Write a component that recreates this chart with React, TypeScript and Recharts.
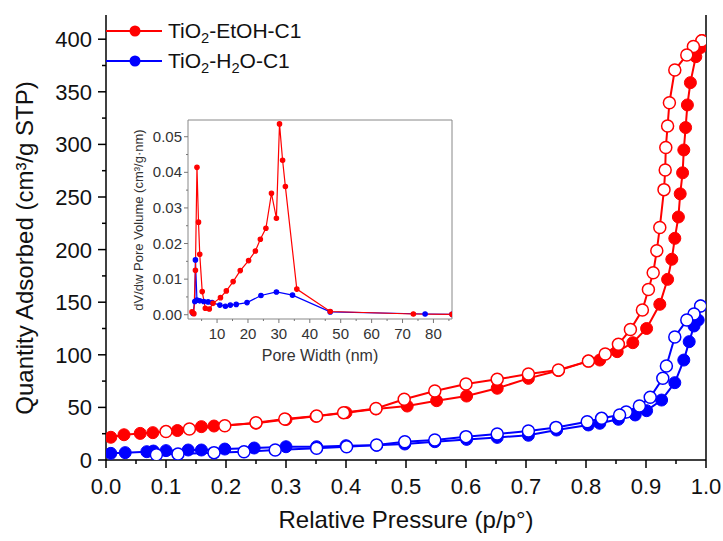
import React from "react";
import { LineChart, Line, XAxis, YAxis, ReferenceLine, Label } from "recharts";

// ---------- main isotherm data ----------
const redAdsP = [0.008, 0.03, 0.057, 0.078, 0.119, 0.159, 0.18, 0.25, 0.3, 0.35, 0.4, 0.45, 0.502, 0.551, 0.601, 0.652, 0.704, 0.754, 0.804, 0.823, 0.852, 0.878, 0.901, 0.923, 0.936, 0.943, 0.948, 0.954, 0.957, 0.961, 0.963, 0.966, 0.969, 0.974, 0.983, 0.991, 0.993];
const redAdsV = [21.6, 24, 25.3, 26, 28, 31.7, 32.3, 35, 38.5, 41.5, 45, 48.5, 51.3, 56.4, 60.8, 68.2, 77.6, 85, 94, 95, 103, 111.5, 125, 148, 171.7, 190.8, 210.7, 231, 253, 273, 294.7, 316, 337.5, 358.7, 383.4, 392, 398.6];
const redDesP = [0.993, 0.979, 0.968, 0.948, 0.939, 0.936, 0.933, 0.932, 0.93, 0.923, 0.918, 0.912, 0.904, 0.894, 0.874, 0.854, 0.832, 0.804, 0.754, 0.704, 0.652, 0.6, 0.548, 0.497, 0.45, 0.396, 0.351, 0.298, 0.25, 0.198, 0.139, 0.1];
const redDesV = [398.6, 393, 385, 370.7, 339.6, 317.5, 297, 275.7, 257, 221, 199, 178, 162, 142.6, 124, 110, 100.8, 94, 85.6, 81.7, 76.7, 72.2, 65.6, 57.7, 49, 45, 41.8, 39, 35.5, 32.6, 29.5, 27];
const blueAdsP = [0.008, 0.032, 0.068, 0.079, 0.1, 0.137, 0.159, 0.198, 0.247, 0.3, 0.351, 0.4, 0.451, 0.498, 0.548, 0.601, 0.652, 0.704, 0.751, 0.804, 0.823, 0.854, 0.882, 0.901, 0.926, 0.948, 0.963, 0.972, 0.98, 0.987, 0.991];
const blueAdsV = [6.3, 7, 7.9, 8.5, 8.9, 9.5, 9.5, 10.4, 11.4, 12.6, 12.6, 13.6, 14, 15.2, 17.4, 19.6, 21.5, 23.5, 28.5, 33.3, 34.9, 38.7, 42.8, 46.9, 57, 73.5, 95, 112.5, 127.4, 133, 146.4];
const blueDesP = [0.991, 0.98, 0.968, 0.948, 0.934, 0.928, 0.907, 0.889, 0.867, 0.856, 0.826, 0.802, 0.75, 0.704, 0.652, 0.6, 0.548, 0.498, 0.451, 0.401, 0.351, 0.282, 0.23, 0.18, 0.12, 0.084];
const blueDesV = [146.4, 138.8, 133, 117, 89.4, 77.7, 59.6, 51.3, 45.6, 42.8, 39.6, 36.4, 31, 27.6, 24.7, 22.2, 19, 17.4, 14.3, 12.6, 11.1, 9.5, 7.9, 7, 5.7, 5];

const xTicks = [0, 0.05, 0.1, 0.15, 0.2, 0.25, 0.3, 0.35, 0.4, 0.45, 0.5, 0.55, 0.6, 0.65, 0.7, 0.75, 0.8, 0.85, 0.9, 0.95, 1.0];
const yTicks = [0, 25, 50, 75, 100, 125, 150, 175, 200, 225, 250, 275, 300, 325, 350, 375, 400];

// ---------- inset pore size distribution ----------
const redPsdW = [1.9, 2.5, 3.0, 3.5, 4.0, 4.4, 5.2, 6.2, 7.5, 8.7, 11.1, 13.0, 15.2, 17.5, 20.2, 22.4, 24.0, 25.8, 27.6, 29.2, 30.2, 31.2, 32.1, 35.8, 46.6, 73.5, 86];
const redPsdV = [0.0008, 0.0003, 0.0125, 0.0414, 0.026, 0.017, 0.0065, 0.0018, 0.0016, 0.0032, 0.0048, 0.0067, 0.0093, 0.0124, 0.0152, 0.0179, 0.0212, 0.0243, 0.0341, 0.0271, 0.0536, 0.0434, 0.036, 0.0072, 0.0009, 0.0002, 0.0001];
const bluePsdW = [2.2, 2.8, 3.0, 3.5, 4.4, 5.7, 7.1, 8.4, 10.9, 12.7, 14.3, 16.2, 19.7, 24.2, 29.2, 34.4, 46.6, 77.3, 86];
const bluePsdV = [0.0004, 0.0037, 0.0154, 0.0041, 0.0039, 0.0037, 0.0036, 0.0034, 0.0027, 0.0024, 0.0027, 0.0029, 0.0034, 0.0054, 0.0064, 0.0055, 0.0008, 0.0002, 0.0001];
const insetXTicks = [5, 10, 15, 20, 25, 30, 35, 40, 45, 50, 55, 60, 65, 70, 75, 80, 85];
const insetYTicks = [0, 0.005, 0.01, 0.015, 0.02, 0.025, 0.03, 0.035, 0.04, 0.045, 0.05];

const RED = "#ff0000";
const BLUE = "#0000ff";

const toPts = (xs: number[], ys: number[]) => xs.map((x, i) => ({ p: x, v: ys[i] }));

const redAds = toPts(redAdsP, redAdsV);
const redDes = toPts(redDesP, redDesV);
const blueAds = toPts(blueAdsP, blueAdsV);
const blueDes = toPts(blueDesP, blueDesV);
const redPsd = toPts(redPsdW, redPsdV);
const bluePsd = toPts(bluePsdW, bluePsdV);

const FONT = "'Liberation Sans', Arial, sans-serif";

const MainXTick = (props: any) => {
  const { x, y, payload, index } = props;
  const major = index % 2 === 0;
  return (
    <g>
      <line x1={x} x2={x} y1={y} y2={y + (major ? 8 : 4)} stroke="#000" strokeWidth={1.5} />
      {major && (
        <text x={x} y={y + 34} textAnchor="middle" fontSize={22} fontFamily={FONT} fill="#111">
          {Number(payload.value).toFixed(1)}
        </text>
      )}
    </g>
  );
};

const MainYTick = (props: any) => {
  const { x, y, payload, index } = props;
  const major = index % 2 === 0;
  return (
    <g>
      <line x1={x} x2={x - (major ? 8 : 4)} y1={y} y2={y} stroke="#000" strokeWidth={1.5} />
      {major && (
        <text x={x - 14} y={y + 8} textAnchor="end" fontSize={22} fontFamily={FONT} fill="#111">
          {payload.value}
        </text>
      )}
    </g>
  );
};

const InsetXTick = (props: any) => {
  const { x, y, payload } = props;
  const major = payload.value % 10 === 0;
  return (
    <g>
      <line x1={x} x2={x} y1={y} y2={y + (major ? 4 : 2)} stroke="#777" strokeWidth={1} />
      {major && (
        <text x={x} y={y + 20} textAnchor="middle" fontSize={15} fontFamily={FONT} fill="#333">
          {payload.value}
        </text>
      )}
    </g>
  );
};

const InsetYTick = (props: any) => {
  const { x, y, payload, index } = props;
  const major = index % 2 === 0;
  return (
    <g>
      <line x1={x} x2={x - (major ? 4 : 2)} y1={y} y2={y} stroke="#777" strokeWidth={1} />
      {major && (
        <text x={x - 6} y={y + 5} textAnchor="end" fontSize={15} fontFamily={FONT} fill="#333">
          {Number(payload.value).toFixed(2)}
        </text>
      )}
    </g>
  );
};

const openDot = (color: string) => ({ r: 6, fill: "#fff", stroke: color, strokeWidth: 1.5 });
const fillDot = (color: string) => ({ r: 6, fill: color, stroke: color, strokeWidth: 1 });

const LegendItem = ({ color, main }: { color: string; main: React.ReactNode }) => (
  <div style={{ display: "flex", alignItems: "center", height: 30 }}>
    <svg width={58} height={14} style={{ display: "block" }}>
      <line x1={0} x2={56} y1={7} y2={7} stroke={color} strokeWidth={2} />
      <circle cx={29} cy={7} r={5.5} fill={color} />
    </svg>
    <span style={{ marginLeft: 4, fontFamily: FONT, fontSize: 21, color: "#111", whiteSpace: "nowrap" }}>{main}</span>
  </div>
);

const Sub = ({ children }: { children: React.ReactNode }) => (
  <span style={{ fontSize: "0.7em", position: "relative", top: "0.35em" }}>{children}</span>
);

export default function App() {
  return (
    <div style={{ position: "absolute", left: 0, top: 0, width: 723, height: 541, background: "#fff" }}>
      <LineChart width={723} height={541} margin={{ top: 15, right: 17, left: 0, bottom: 0 }}>
        <XAxis
          dataKey="p"
          type="number"
          domain={[0, 1]}
          ticks={xTicks}
          interval={0}
          tick={<MainXTick />}
          tickSize={0}
          tickMargin={0}
          tickLine={false}
          height={81}
          axisLine={{ stroke: "#000", strokeWidth: 1.5 }}
          allowDataOverflow
        >
          <Label
            content={() => (
              <text x={406} y={528} textAnchor="middle" fontSize={24} fontFamily={FONT} fill="#111">
                Relative Pressure (p/p°)
              </text>
            )}
          />
        </XAxis>
        <YAxis
          dataKey="v"
          type="number"
          domain={[0, 423]}
          ticks={yTicks}
          interval={0}
          tick={<MainYTick />}
          tickSize={0}
          tickMargin={0}
          tickLine={false}
          width={106}
          axisLine={{ stroke: "#000", strokeWidth: 1.5 }}
          allowDataOverflow
        >
          <Label
            content={() => (
              <text x={33} y={248} textAnchor="middle" fontSize={24} fontFamily={FONT} fill="#111" transform="rotate(-90 33 248)">
                Quantity Adsorbed (cm³/g STP)
              </text>
            )}
          />
        </YAxis>
        <ReferenceLine x={1} stroke="#000" strokeWidth={1.5} />
        <Line data={redAds} dataKey="v" stroke={RED} strokeWidth={2} dot={fillDot(RED)} isAnimationActive={false} />
        <Line data={redDes} dataKey="v" stroke={RED} strokeWidth={2} dot={openDot(RED)} isAnimationActive={false} />
        <Line data={blueAds} dataKey="v" stroke={BLUE} strokeWidth={2} dot={fillDot(BLUE)} isAnimationActive={false} />
        <Line data={blueDes} dataKey="v" stroke={BLUE} strokeWidth={2} dot={openDot(BLUE)} isAnimationActive={false} />
      </LineChart>

      <div style={{ position: "absolute", left: 106, top: 16 }}>
        <LegendItem color={RED} main={<>TiO<Sub>2</Sub>-EtOH-C1</>} />
        <LegendItem color={BLUE} main={<>TiO<Sub>2</Sub>-H<Sub>2</Sub>O-C1</>} />
      </div>

      <div style={{ position: "absolute", left: 130, top: 110 }}>
        <LineChart width={330} height={260} margin={{ top: 10, right: 8, left: 0, bottom: 0 }}>
          <XAxis
            dataKey="p"
            type="number"
            domain={[0.6, 86]}
            ticks={insetXTicks}
            interval={0}
            tick={<InsetXTick />}
            tickSize={0}
            tickMargin={0}
            tickLine={false}
            height={51}
            axisLine={{ stroke: "#888", strokeWidth: 1 }}
            allowDataOverflow
          >
            <Label
              content={() => (
                <text x={190} y={251} textAnchor="middle" fontSize={16} fontFamily={FONT} fill="#333">
                  Pore Width (nm)
                </text>
              )}
            />
          </XAxis>
          <YAxis
            dataKey="v"
            type="number"
            domain={[-0.0012, 0.0547]}
            ticks={insetYTicks}
            interval={0}
            tick={<InsetYTick />}
            tickSize={0}
            tickMargin={0}
            tickLine={false}
            width={58}
            axisLine={{ stroke: "#888", strokeWidth: 1 }}
            allowDataOverflow
          >
            <Label
              content={() => (
                <text x={13} y={110} textAnchor="middle" fontSize={13} fontFamily={FONT} fill="#333" transform="rotate(-90 13 110)">
                  dV/dw Pore Volume (cm³/g·nm)
                </text>
              )}
            />
          </YAxis>
          <ReferenceLine x={86} stroke="#888" strokeWidth={1} />
          <ReferenceLine y={0.0547} stroke="#888" strokeWidth={1} />
          <Line data={bluePsd} dataKey="v" stroke={BLUE} strokeWidth={1.2} dot={{ r: 2.2, fill: BLUE, stroke: BLUE }} isAnimationActive={false} />
          <Line data={redPsd} dataKey="v" stroke={RED} strokeWidth={1.2} dot={{ r: 2.2, fill: RED, stroke: RED }} isAnimationActive={false} />
        </LineChart>
      </div>
    </div>
  );
}
